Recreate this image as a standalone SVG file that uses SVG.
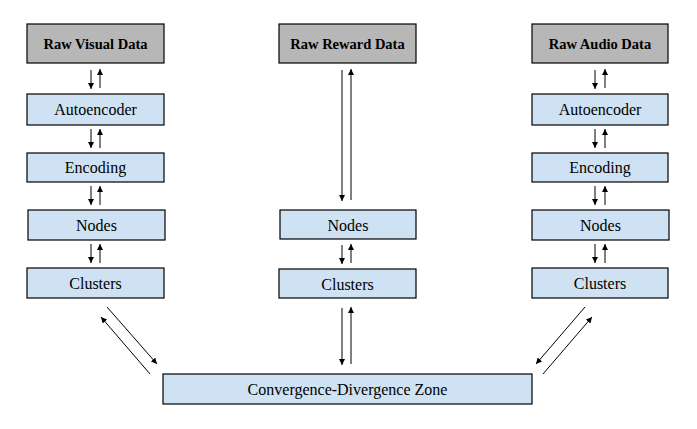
<svg xmlns="http://www.w3.org/2000/svg" width="697" height="429" viewBox="0 0 697 429">
<defs>
<style>
.raw{fill:#b7b7b7;stroke:#000;stroke-width:1.2}
.box{fill:#cfe2f3;stroke:#000;stroke-width:1.2}
text{font-family:'Liberation Serif','Times New Roman','DejaVu Serif',serif;text-anchor:middle;fill:#000}
.tb{font-weight:bold;font-size:14.5px}
.t{font-size:16px}
.c line{stroke:#000;stroke-width:1;marker-end:url(#ah)}
</style>
<marker id="ah" viewBox="0 0 10 10" refX="10" refY="5" markerWidth="6" markerHeight="6" markerUnits="userSpaceOnUse" orient="auto">
<path d="M0,0 L10,5 L0,10 z" fill="#000"/>
</marker>
</defs>
<rect width="697" height="429" fill="#fff"/>
<g id="raw-visual"><rect class="raw" x="27" y="24" width="137" height="39"/><text class="tb" x="95.5" y="48.5">Raw Visual Data</text></g>
<g id="auto-left"><rect class="box" x="27" y="94" width="137" height="31"/><text class="t" x="95.5" y="115">Autoencoder</text></g>
<g id="enc-left"><rect class="box" x="27" y="153" width="137" height="29"/><text class="t" x="95.5" y="173">Encoding</text></g>
<g id="nodes-left"><rect class="box" x="28" y="210" width="137" height="30"/><text class="t" x="96.5" y="231">Nodes</text></g>
<g id="clusters-left"><rect class="box" x="27" y="268" width="137" height="30"/><text class="t" x="95.5" y="289">Clusters</text></g>
<g id="raw-reward"><rect class="raw" x="279" y="24" width="137" height="39"/><text class="tb" x="347.5" y="48.5">Raw Reward Data</text></g>
<g id="nodes-center"><rect class="box" x="280" y="210" width="136" height="29"/><text class="t" x="348" y="230.5">Nodes</text></g>
<g id="clusters-center"><rect class="box" x="279" y="269" width="137" height="29"/><text class="t" x="347.5" y="289.5">Clusters</text></g>
<g id="raw-audio"><rect class="raw" x="532" y="24" width="136" height="39"/><text class="tb" x="600" y="48.5">Raw Audio Data</text></g>
<g id="auto-right"><rect class="box" x="532" y="94" width="136" height="31"/><text class="t" x="600" y="115">Autoencoder</text></g>
<g id="enc-right"><rect class="box" x="532" y="153" width="136" height="29"/><text class="t" x="600" y="173">Encoding</text></g>
<g id="nodes-right"><rect class="box" x="532" y="210" width="137" height="30"/><text class="t" x="600.5" y="231">Nodes</text></g>
<g id="clusters-right"><rect class="box" x="532" y="268" width="136" height="30"/><text class="t" x="600" y="289">Clusters</text></g>
<g id="zone"><rect class="box" x="163" y="374" width="369" height="30"/><text class="t" x="347.5" y="395">Convergence-Divergence Zone</text></g>
<g id="connectors" class="c">
<line x1="91" y1="70" x2="91" y2="89"/><line x1="100" y1="88" x2="100" y2="69"/>
<line x1="91" y1="129" x2="91" y2="148"/><line x1="100" y1="148" x2="100" y2="129"/>
<line x1="91" y1="186" x2="91" y2="205"/><line x1="100" y1="205" x2="100" y2="186"/>
<line x1="91" y1="244" x2="91" y2="263"/><line x1="100" y1="263" x2="100" y2="244"/>
<line x1="107" y1="307" x2="157" y2="364"/><line x1="150" y1="374" x2="101" y2="317"/>
<line x1="342" y1="70" x2="342" y2="201"/><line x1="351" y1="200" x2="351" y2="69"/>
<line x1="342" y1="245" x2="342" y2="264"/><line x1="351" y1="263" x2="351" y2="244"/>
<line x1="342" y1="308" x2="342" y2="365"/><line x1="351" y1="364" x2="351" y2="307"/>
<line x1="595" y1="70" x2="595" y2="89"/><line x1="605" y1="88" x2="605" y2="69"/>
<line x1="595" y1="129" x2="595" y2="148"/><line x1="605" y1="148" x2="605" y2="129"/>
<line x1="595" y1="186" x2="595" y2="205"/><line x1="605" y1="205" x2="605" y2="186"/>
<line x1="595" y1="244" x2="595" y2="263"/><line x1="605" y1="263" x2="605" y2="244"/>
<line x1="585" y1="307" x2="536" y2="364"/><line x1="543" y1="374" x2="592" y2="317"/>
</g>
</svg>
